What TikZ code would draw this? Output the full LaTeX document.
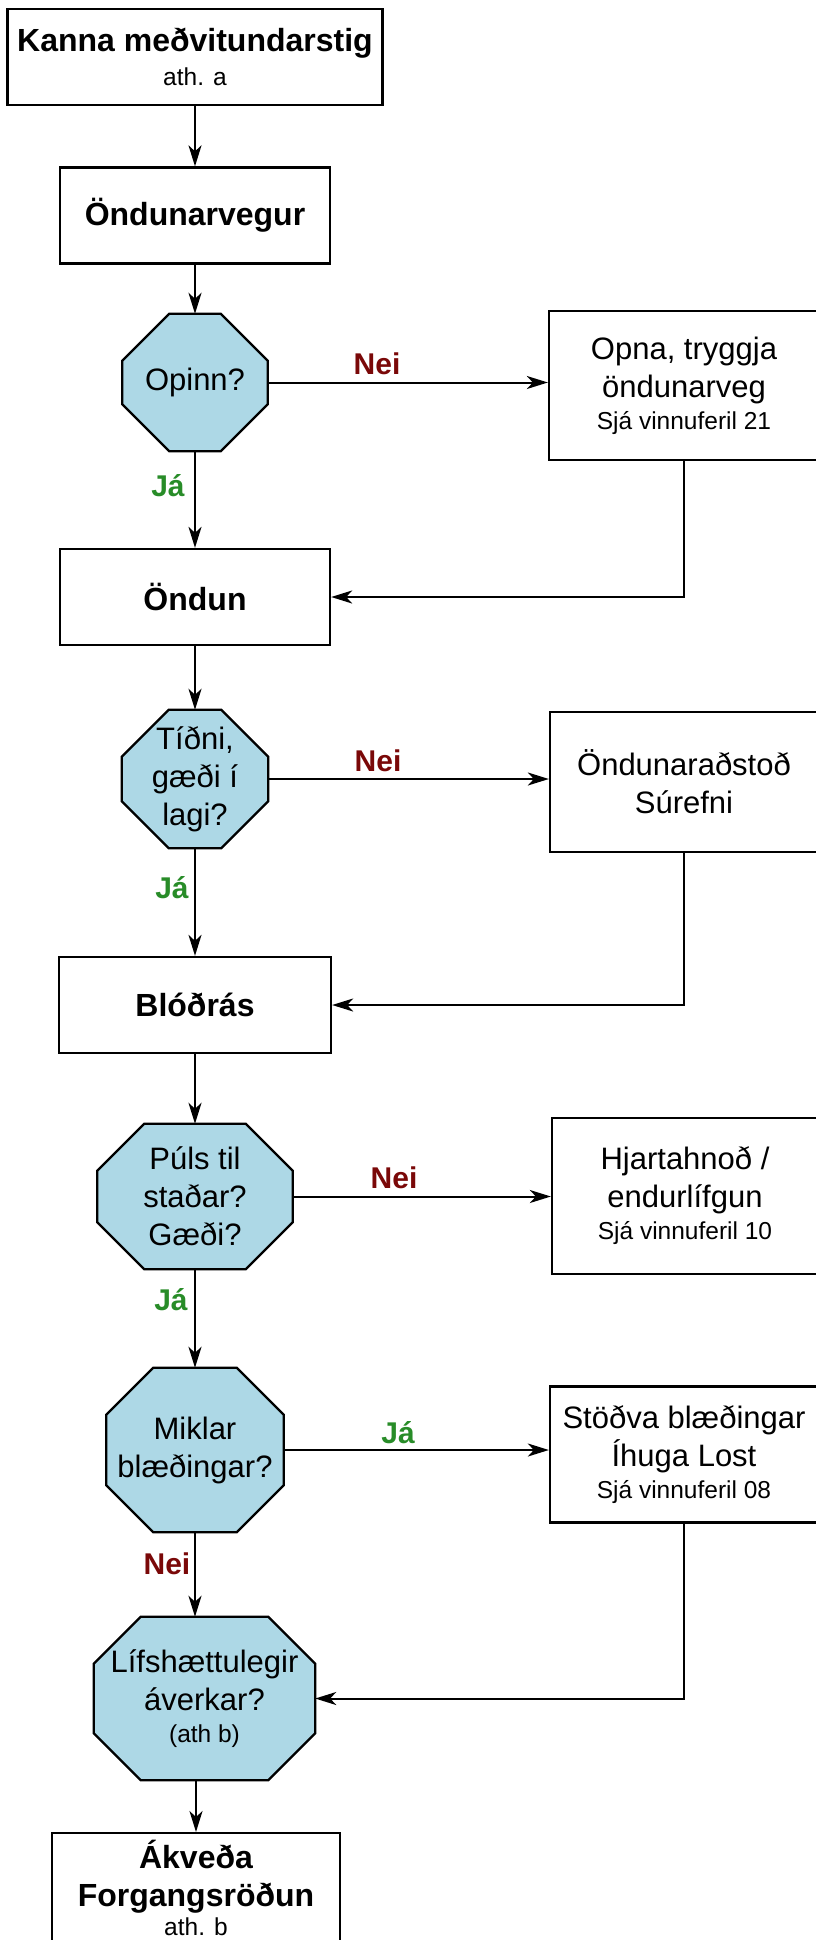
\documentclass[tikz,border=0pt]{standalone}
\usepackage{fontspec}
\setmainfont{Liberation Sans}
\usepackage{tikz}
\usetikzlibrary{arrows.meta, backgrounds}
\usepackage{xcolor}

\definecolor{octblue}{RGB}{173,216,230}
\definecolor{neired}{RGB}{122,8,8}
\definecolor{jagreen}{RGB}{40,140,40}

\newcommand{\bigtext}{\fontsize{31}{38}\selectfont}
\newcommand{\titletext}{\fontsize{32}{39}\selectfont\bfseries}
\newcommand{\notetext}{\fontsize{24.5}{30}\selectfont\mdseries}

\newcommand{\octframe}[1]{%
  \filldraw[octline] ([xshift=47pt]#1.north west) -- ([xshift=-47pt]#1.north east)
    -- ([yshift=-47pt]#1.north east) -- ([yshift=47pt]#1.south east)
    -- ([xshift=-47pt]#1.south east) -- ([xshift=47pt]#1.south west)
    -- ([yshift=47pt]#1.south west) -- ([yshift=-47pt]#1.north west) -- cycle;}

\begin{document}
\begin{tikzpicture}[x=1pt, y=-1pt,
  box/.style={rectangle, draw=black, line width=2.3pt, inner sep=0pt, align=center, font=\bigtext},
  title/.style={box, font=\titletext},
  oct/.style={rectangle, inner sep=0pt, align=center, font=\bigtext},
  octline/.style={fill=octblue, draw=black, line width=2.3pt, line join=miter},
  flow/.style={-{Stealth[length=21pt, width=13pt, inset=6pt]}, line width=2pt},
  nei/.style={font=\fontsize{30}{34}\selectfont\bfseries, text=neired},
  ja/.style={font=\fontsize{30}{34}\selectfont\bfseries, text=jagreen}]
  \useasboundingbox (0, 0) rectangle (815, 1940);

  \node[title, minimum width=375pt, minimum height=96pt] (medvitund) at (195, 57) {Kanna meðvitundarstig\\[-5pt]{\notetext ath. a}};
  \node[title, minimum width=270pt, minimum height=96pt] (ondunarvegur) at (195, 215.5) {Öndunarvegur};
  \node[oct, minimum width=145pt, minimum height=137pt] (opinn) at (195, 382.5) {Opinn?};
  \node[box, minimum width=270pt, minimum height=149pt] (opna) at (684, 385.5) {Opna, tryggja\\öndunarveg\\[-6pt]{\notetext Sjá vinnuferil 21}};
  \node[title, minimum width=270pt, minimum height=96pt] (ondun) at (195, 597) {Öndun};
  \node[oct, minimum width=146pt, minimum height=138pt] (tidni) at (195, 779) {Tíðni,\\gæði í\\lagi?};
  \node[box, minimum width=268pt, minimum height=140pt] (ondunarastod) at (684, 782) {Öndunaraðstoð\\Súrefni};
  \node[title, minimum width=272pt, minimum height=96pt] (blodras) at (195, 1005) {Blóðrás};
  \node[oct, minimum width=195pt, minimum height=145pt] (puls) at (195, 1196.5) {Púls til\\staðar?\\Gæði?};
  \node[box, minimum width=266pt, minimum height=156pt] (hjartahnod) at (685, 1196) {Hjartahnoð /\\endurlífgun\\[-6pt]{\notetext Sjá vinnuferil 10}};
  \node[oct, minimum width=177pt, minimum height=164pt] (blaedingar) at (195, 1450) {Miklar\\blæðingar?};
  \node[box, minimum width=268pt, minimum height=136pt] (stodva) at (684, 1454.5) {Stöðva blæðingar\\Íhuga Lost\\[-6pt]{\notetext Sjá vinnuferil 08}};
  \node[oct, minimum width=221pt, minimum height=163pt] (averkar) at (204.5, 1698.5) {Lífshættulegir\\áverkar?\\[-6pt]{\notetext (ath b)}};
  \node[title, minimum width=288pt, anchor=north, inner ysep=7pt] (forgangur) at (196, 1832) {Ákveða\\[-1pt]Forgangsröðun\\[-10pt]{\notetext ath. b}};

  % octagons behind the questions
  \begin{scope}[on background layer]
    \octframe{opinn}
    \octframe{tidni}
    \octframe{puls}
    \octframe{blaedingar}
    \octframe{averkar}
  \end{scope}

  \node[nei] (nei1) at (377, 364) {Nei};
  \node[ja] (ja1) at (168, 486) {Já};
  \node[nei] (nei2) at (378, 761) {Nei};
  \node[ja] (ja2) at (172, 888) {Já};
  \node[nei] (nei3) at (394, 1178) {Nei};
  \node[ja] (ja3) at (171, 1300) {Já};
  \node[ja] (ja4) at (398, 1433) {Já};
  \node[nei] (nei4) at (167, 1564) {Nei};

  \draw[flow] (medvitund) -- (ondunarvegur);
  \draw[flow] (ondunarvegur) -- (opinn);
  \draw[flow] (opinn) -- (ondun);
  \draw[flow] (opinn.east) -- (opinn.east -| opna.west);
  \draw[flow] (opna.south) |- (ondun.east);
  \draw[flow] (ondun) -- (tidni);
  \draw[flow] (tidni) -- (blodras);
  \draw[flow] (tidni.east) -- (tidni.east -| ondunarastod.west);
  \draw[flow] (ondunarastod.south) |- (blodras.east);
  \draw[flow] (blodras) -- (puls);
  \draw[flow] (puls) -- (blaedingar);
  \draw[flow] (puls.east) -- (puls.east -| hjartahnod.west);
  \draw[flow] (blaedingar.east) -- (blaedingar.east -| stodva.west);
  \draw[flow] (blaedingar.south) -- (blaedingar.south |- averkar.north);
  \draw[flow] (stodva.south) |- (averkar.east);
  \draw[flow] (averkar.south -| forgangur.north) -- (forgangur.north);
\end{tikzpicture}
\end{document}
